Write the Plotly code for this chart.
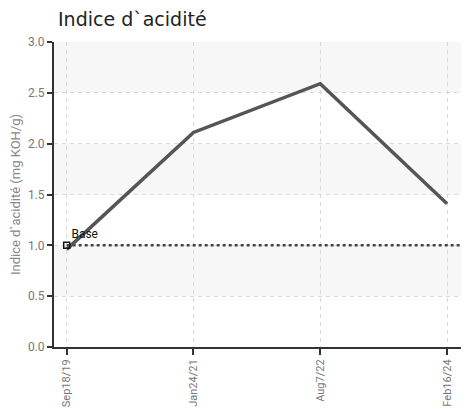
import plotly.graph_objects as go

dates = ["Sep18/19", "Jan24/21", "Aug7/22", "Feb16/24"]
values = [0.96, 2.11, 2.59, 1.41]
base_value = 1.0
base_label = "Base"
y_ticks = [0.0, 0.5, 1.0, 1.5, 2.0, 2.5, 3.0]
title = "Indice d`acidité"
y_title = "Indice d`acidité (mg KOH/g)"

xs = list(range(len(dates)))
x_min, x_max = -0.1, len(dates) - 1 + 0.11

# page body has an 8px margin; the figure is sized to fit the window
W, H, OFF = 469 - 8, 409 - 8, 8

fig = go.Figure()

shapes = []
for i in range(len(y_ticks) - 1):
    if i % 2 == 1:
        shapes.append(dict(type="rect", xref="paper", yref="y", x0=0, x1=1,
                           y0=y_ticks[i], y1=y_ticks[i + 1],
                           fillcolor="#f7f7f7", line=dict(width=0), layer="below"))

fig.add_trace(go.Scatter(x=[xs[0], x_max], y=[base_value, base_value], mode="lines",
                         line=dict(color="#444444", width=2.5, dash="dot"),
                         hoverinfo="skip", showlegend=False))
fig.add_trace(go.Scatter(x=xs, y=values, mode="lines",
                         line=dict(color="#555555", width=3.5),
                         showlegend=False))
fig.add_trace(go.Scatter(x=[xs[0]], y=[base_value], mode="markers+text",
                         marker=dict(symbol="square-open", size=6, color="#111111",
                                     line=dict(width=1.5)),
                         text=[base_label], textposition="top right",
                         textfont=dict(family="Roboto", size=12, color="#111111"),
                         showlegend=False))

fig.update_layout(
    width=W, height=H,
    margin=dict(l=54 - OFF, r=8, t=42 - OFF, b=62),
    plot_bgcolor="white", paper_bgcolor="white",
    shapes=shapes,
    title=dict(text=title, x=(58 - OFF) / W, xanchor="left", y=1 - (19 - OFF) / H, yanchor="middle",
               font=dict(family="DejaVu Sans, Noto Sans", size=19, color="#222222")),
    xaxis=dict(range=[x_min, x_max], tickmode="array", tickvals=xs, ticktext=dates,
               tickangle=-90, showgrid=True, gridcolor="#d9d9d9", griddash="4px,4px", gridwidth=1,
               showline=True, linecolor="#333333", linewidth=2,
               ticks="outside", ticklen=6, tickwidth=1.5, tickcolor="#333333",
               tickfont=dict(family="Roboto", size=11, color="#777777"),
               zeroline=False, automargin=False),
    yaxis=dict(range=[0, 3.0], tickmode="array", tickvals=y_ticks,
               ticktext=[f"{v:.1f}" for v in y_ticks],
               showgrid=True, gridcolor="#d9d9d9", griddash="4px,4px", gridwidth=1,
               showline=True, linecolor="#333333", linewidth=2,
               ticks="outside", ticklen=5, tickwidth=1.5, tickcolor="#333333",
               tickfont=dict(family="Roboto", size=12, color="#777777"),
               title=dict(text=y_title, standoff=6,
                          font=dict(family="Roboto", size=13, color="#888888")),
               zeroline=False, automargin=False),
)

fig.write_html("out.html")
